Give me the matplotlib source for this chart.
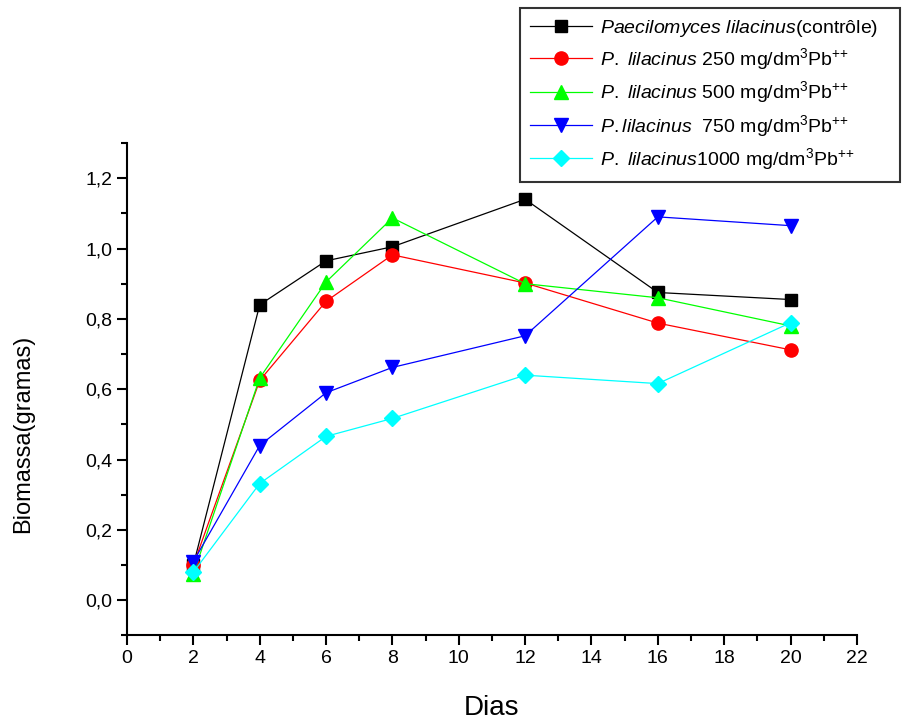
import matplotlib
matplotlib.use("Agg")
import matplotlib.pyplot as plt
from matplotlib.ticker import MultipleLocator

plt.rcParams['font.family'] = ['Liberation Sans', 'DejaVu Sans']
plt.rcParams['mathtext.fontset'] = 'custom'
plt.rcParams['mathtext.rm'] = 'Liberation Sans'
plt.rcParams['mathtext.it'] = 'Liberation Sans:italic'

# Dados (dias x biomassa em gramas)
dias = [2, 4, 6, 8, 12, 16, 20]
controle = [0.10, 0.84, 0.965, 1.005, 1.14, 0.875, 0.855]
pb250 = [0.10, 0.625, 0.85, 0.982, 0.902, 0.788, 0.712]
pb500 = [0.075, 0.632, 0.905, 1.087, 0.90, 0.86, 0.78]
pb750 = [0.11, 0.44, 0.59, 0.662, 0.752, 1.09, 1.065]
pb1000 = [0.08, 0.332, 0.466, 0.517, 0.64, 0.616, 0.789]

rotulos = [
    r"$\mathit{Paecilomyces\ lilacinus}\mathrm{(contrôle)}$",
    r"$\mathit{P.\ lilacinus}\ \mathrm{250\ mg/dm^{3}Pb^{{+}{+}}}$",
    r"$\mathit{P.\ lilacinus}\ \mathrm{500\ mg/dm^{3}Pb^{{+}{+}}}$",
    r"$\mathit{P.lilacinus}\ \ \mathrm{750\ mg/dm^{3}Pb^{{+}{+}}}$",
    r"$\mathit{P.\ lilacinus}\mathrm{1000\ mg/dm^{3}Pb^{{+}{+}}}$",
]
series = [controle, pb250, pb500, pb750, pb1000]
cores = ['#000000', '#FF0000', '#00FF00', '#0000FF', '#00FFFF']
marcadores = ['s', 'o', '^', 'v', 'D']
tamanhos = [9, 9.5, 10, 10, 8]

fig = plt.figure(figsize=(9.02, 7.2), dpi=100)
ax = fig.add_axes([0.1408, 0.1174, 0.8092, 0.684])

linhas = []
for y, lab, c, m, s in zip(series, rotulos, cores, marcadores, tamanhos):
    l, = ax.plot(dias, y, color=c, marker=m, markersize=s, markeredgecolor=c,
                 linewidth=0.9, label=lab, clip_on=False)
    linhas.append(l)

ax.set_xlim(0, 22)
ax.set_ylim(-0.1, 1.3)
ax.xaxis.set_major_locator(MultipleLocator(2))
ax.xaxis.set_minor_locator(MultipleLocator(1))
ax.yaxis.set_major_locator(MultipleLocator(0.2))
ax.yaxis.set_minor_locator(MultipleLocator(0.1))
ax.yaxis.set_major_formatter(plt.FuncFormatter(lambda v, p: f"{v:.1f}".replace('.', ',')))

for s in ['top', 'right']:
    ax.spines[s].set_visible(False)
for s in ['left', 'bottom']:
    ax.spines[s].set_linewidth(1.5)

ax.tick_params(which='major', direction='out', length=7, width=1.5, labelsize=14)
ax.tick_params(which='minor', direction='out', length=4, width=1.5)

ax.set_xlabel('Dias', fontsize=20, labelpad=20)
fig.text(23 / 902, 1 - 434 / 720, 'Biomassa(gramas)', fontsize=17, rotation=90,
         ha='center', va='center')

leg = fig.legend(handles=linhas, loc='upper left',
                 bbox_to_anchor=(520 / 902, 1 - 182 / 720, 380 / 902, 174 / 720),
                 mode='expand', fontsize=14, frameon=True, fancybox=False,
                 edgecolor='black', handlelength=3.2, handletextpad=0.4,
                 borderpad=0.5, labelspacing=0.38, borderaxespad=0)
leg.get_frame().set_linewidth(1.5)

fig.savefig('out.png', dpi=100)
